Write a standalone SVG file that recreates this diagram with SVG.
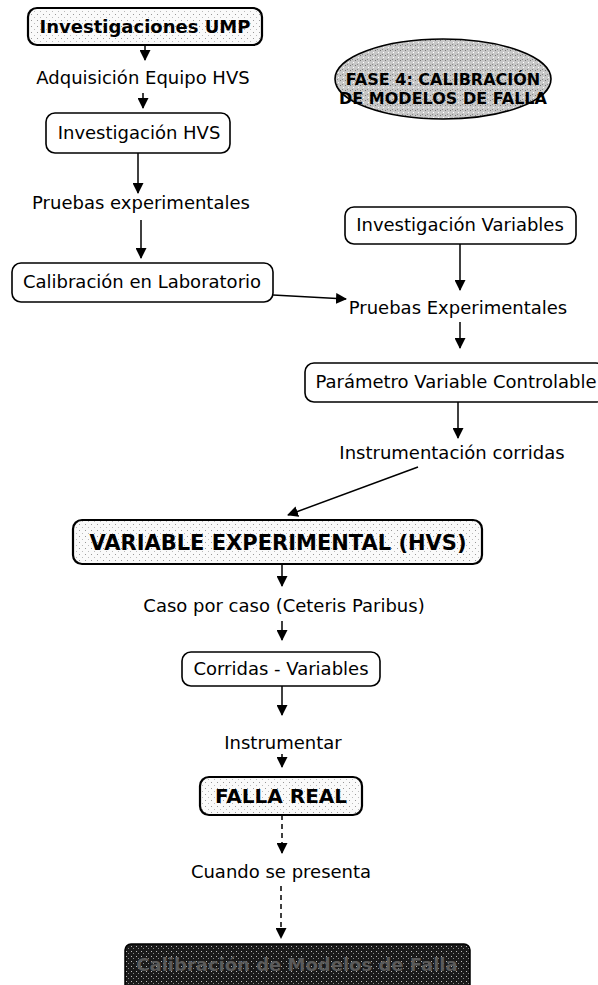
<svg xmlns="http://www.w3.org/2000/svg" width="598" height="985" viewBox="0 0 598 985">
<defs>
<marker id="ah" markerUnits="userSpaceOnUse" markerWidth="11" markerHeight="11" refX="10" refY="5.5" orient="auto">
<path d="M0,0 L11,5.5 L0,11 z" fill="#000"/>
</marker>
<pattern id="dots" width="6" height="6" patternUnits="userSpaceOnUse">
<rect width="6" height="6" fill="#fafafa"/>
<rect x="1" y="2" width="1" height="1" fill="#999"/>
<rect x="4" y="5" width="1" height="1" fill="#bbb"/>
</pattern>
<pattern id="grain" width="5" height="5" patternUnits="userSpaceOnUse">
<rect width="5" height="5" fill="#c8c8c8"/>
<rect x="0" y="0" width="1" height="1" fill="#777"/>
<rect x="3" y="2" width="1" height="1" fill="#fff"/>
<rect x="2" y="4" width="1" height="1" fill="#888"/>
</pattern>
<pattern id="dark" width="5" height="5" patternUnits="userSpaceOnUse">
<rect width="5" height="5" fill="#1a1a1a"/>
<rect x="1" y="1" width="1" height="1" fill="#bbb"/>
<rect x="3" y="3" width="1" height="1" fill="#888"/>
</pattern>
</defs>
<style>
text{font-family:"DejaVu Sans","Verdana",sans-serif;font-size:18px;fill:#000;text-anchor:middle}
.b{font-weight:bold}
.box{fill:#fff;stroke:#000;stroke-width:1.6}
.boxd{fill:url(#dots);stroke:#000;stroke-width:2.2}
.c{fill:none;stroke:#000;stroke-width:1.5;marker-end:url(#ah)}
.dash{stroke-dasharray:5 4}
</style>

<g id="connectors">
<path class="c" d="M145 45 V60"/>
<path class="c" d="M143 93 V108"/>
<path class="c" d="M138 153 V193"/>
<path class="c" d="M141 220 V258"/>
<path class="c" d="M273 295 L346 299"/>
<path class="c" d="M460 244 V290"/>
<path class="c" d="M460 322 V348"/>
<path class="c" d="M458 402 V438"/>
<path class="c" d="M418 467 L288 515"/>
<path class="c" d="M282 564 V586"/>
<path class="c" d="M282 621 V640"/>
<path class="c" d="M282 686 V715"/>
<path class="c" d="M282 754 V767"/>
<path class="c dash" d="M282 815 V853"/>
<path class="c dash" d="M281 886 V938"/>
</g>

<g id="fase4">
<ellipse cx="443" cy="79" rx="108" ry="40" fill="url(#grain)" stroke="#000" stroke-width="1.6"/>
<text class="b" x="443" y="85" style="font-size:16px">FASE 4: CALIBRACIÓN</text>
<text class="b" x="443" y="104" style="font-size:16px">DE MODELOS DE FALLA</text>
</g>

<g id="n-inv-ump">
<rect class="boxd" x="28" y="8" width="234" height="37" rx="9"/>
<text class="b" x="145" y="33">Investigaciones UMP</text>
</g>
<g id="l-adq">
<text x="143" y="84">Adquisición Equipo HVS</text>
</g>
<g id="n-inv-hvs">
<rect class="box" x="46" y="113" width="184" height="40" rx="9"/>
<text x="139" y="139">Investigación HVS</text>
</g>
<g id="l-pruebas">
<text x="141" y="209">Pruebas experimentales</text>
</g>
<g id="n-calib-lab">
<rect class="box" x="12" y="263" width="261" height="39" rx="9"/>
<text x="142" y="288">Calibración en Laboratorio</text>
</g>
<g id="n-inv-var">
<rect class="box" x="345" y="207" width="231" height="37" rx="9"/>
<text x="460" y="231">Investigación Variables</text>
</g>
<g id="l-pruebas-exp">
<text x="458" y="314">Pruebas Experimentales</text>
</g>
<g id="n-param">
<rect class="box" x="305" y="363" width="300" height="39" rx="9"/>
<text x="456" y="388">Parámetro Variable Controlable</text>
</g>
<g id="l-instr-corr">
<text x="452" y="459">Instrumentación corridas</text>
</g>
<g id="n-var-exp">
<rect class="boxd" x="73" y="520" width="409" height="44" rx="9"/>
<text class="b" x="278" y="550" style="font-size:21px">VARIABLE EXPERIMENTAL (HVS)</text>
</g>
<g id="l-caso">
<text x="284" y="612">Caso por caso (Ceteris Paribus)</text>
</g>
<g id="n-corridas">
<rect class="box" x="182" y="652" width="198" height="34" rx="9"/>
<text x="281" y="675">Corridas - Variables</text>
</g>
<g id="l-instrumentar">
<text x="283" y="749">Instrumentar</text>
</g>
<g id="n-falla-real">
<rect class="boxd" x="200" y="777" width="162" height="38" rx="9"/>
<text class="b" x="281" y="803" style="font-size:20px">FALLA REAL</text>
</g>
<g id="l-cuando">
<text x="281" y="878">Cuando se presenta</text>
</g>
<g id="n-calib-modelos">
<rect x="125" y="944" width="345" height="50" rx="6" fill="url(#dark)" stroke="#000" stroke-width="1.5"/>
<text class="b" x="297" y="971" style="font-size:18px;fill:#5a5a5a">Calibración de Modelos de Falla</text>
</g>
</svg>
